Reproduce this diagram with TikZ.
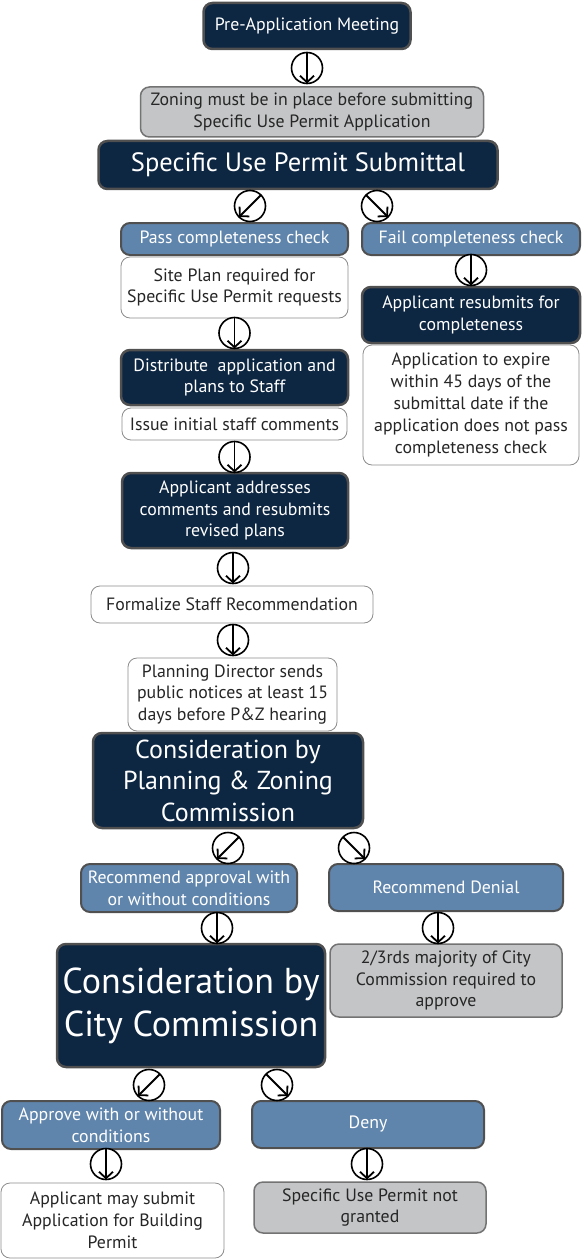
\documentclass[tikz,border=0pt]{standalone}
\usepackage{fontspec}
\setmainfont{PT Sans}
\usetikzlibrary{arrows.meta}
\definecolor{navy}{RGB}{13,38,66}
\definecolor{steel}{RGB}{96,133,172}
\definecolor{stone}{RGB}{196,197,199}
\definecolor{rim}{RGB}{80,80,80}
\begin{document}
\begin{tikzpicture}[x=1pt, y=-1pt,
    box/.style={rounded corners=9pt, align=center, inner sep=2pt, font=\fontsize{17.8}{21.8}\selectfont},
    darkbox/.style={box, fill=navy, draw=rim, line width=2.5pt, text=white},
    bluebox/.style={box, fill=steel, draw=rim, line width=2pt, text=white},
    graybox/.style={box, fill=stone, draw=rim!80, line width=1.5pt, text=black!85},
    whitebox/.style={box, fill=white, draw=black!45, line width=0.8pt, text=black!85},
    ring/.style={circle, draw=black, fill=white, line width=1.6pt, minimum size=31pt, inner sep=0pt, outer sep=0pt},
    flow/.style={line width=1.8pt, -{Straight Barb[length=6.5pt, width=14pt]}}]
    \useasboundingbox (0,0) rectangle (586,1260);
    % Submittal
    \node[darkbox, minimum width=207pt, minimum height=46pt] (pre) at (307,26) {Pre-Application Meeting};
    \node[graybox, minimum width=343pt, minimum height=50pt] (zoning) at (312,112) {Zoning must be in place before submitting\\Specific Use Permit Application};
    \node[darkbox, minimum width=399pt, minimum height=48pt, font=\fontsize{26.5}{32}\selectfont] (submit) at (298,165) {Specific Use Permit Submittal};
    % Completeness check
    \node[bluebox, minimum width=227pt, minimum height=32pt] (pass) at (234.5,239) {Pass completeness check};
    \node[bluebox, minimum width=218pt, minimum height=32pt] (fail) at (471,239) {Fail completeness check};
    \node[whitebox, minimum width=227pt, minimum height=61pt] (site) at (234.5,287.5) {Site Plan required for\\Specific Use Permit requests};
    \node[darkbox, minimum width=218pt, minimum height=56pt] (resub) at (471,315) {Applicant resubmits for\\completeness};
    \node[whitebox, minimum width=216pt, minimum height=120pt] (expire) at (471,405) {Application to expire\\within 45 days of the\\submittal date if the\\application does not pass\\completeness check};
    % Staff review
    \node[darkbox, minimum width=227pt, minimum height=55pt] (distrib) at (234.5,377.5) {Distribute\ \ application and\\plans to Staff};
    \node[whitebox, minimum width=225pt, minimum height=32pt] (issue) at (234.5,424) {Issue initial staff comments};
    \node[darkbox, minimum width=226pt, minimum height=75pt] (addr) at (235,510.5) {Applicant addresses\\comments and resubmits\\revised plans};
    \node[whitebox, minimum width=282pt, minimum height=37pt] (formal) at (232,604.5) {Formalize Staff Recommendation};
    \node[whitebox, minimum width=209pt, minimum height=73pt] (notice) at (232.5,694.5) {Planning Director sends\\public notices at least 15\\days before P\&Z hearing};
    % P&Z
    \node[darkbox, minimum width=270pt, minimum height=95pt, font=\fontsize{26}{31.5}\selectfont] (pz) at (228,780.5) {Consideration by\\Planning \& Zoning\\Commission};
    \node[bluebox, minimum width=216pt, minimum height=48pt] (recA) at (189,888) {Recommend approval with\\or without conditions};
    \node[bluebox, minimum width=234pt, minimum height=47pt] (recD) at (446,887.5) {Recommend Denial};
    \node[graybox, minimum width=232pt, minimum height=73pt] (twothirds) at (446,980.5) {2/3rds majority of City\\Commission required to\\approve};
    % City Commission
    \node[darkbox, minimum width=268pt, minimum height=123pt, font=\fontsize{36}{43}\selectfont] (city) at (191,1005.5) {Consideration by\\City Commission};
    \node[bluebox, minimum width=218pt, minimum height=48pt] (approve) at (111,1125) {Approve with or without\\conditions};
    \node[bluebox, minimum width=232pt, minimum height=47pt] (deny) at (368,1124.5) {Deny};
    \node[whitebox, minimum width=223pt, minimum height=75pt] (build) at (112.5,1220.5) {Applicant may submit\\Application for Building\\Permit};
    \node[graybox, minimum width=232pt, minimum height=51pt] (notgranted) at (370,1207.5) {Specific Use Permit not\\granted};
    % Arrow rings
    \foreach \n/\x/\y/\a/\b in {r1/307/68/north/south,
            r2/250/206/north east/south west, r3/377/206/north west/south east,
            r4/471/270/north/south, r5/234.5/333/north/south, r6/234.5/457/north/south,
            r7/233/568/north/south, r8/233/640/north/south,
            r9/228/848/north east/south west, r10/354/848/north west/south east,
            r11/217/928/north/south, r12/438/928/north/south,
            r13/149/1085/north east/south west, r14/277/1085/north west/south east,
            r15/106/1164/north/south, r16/367/1164/north/south} {
            \node[ring] (\n) at (\x,\y) {};
            \draw[flow] (\n.\a) -- (\n.\b);
        }
\end{tikzpicture}
\end{document}
